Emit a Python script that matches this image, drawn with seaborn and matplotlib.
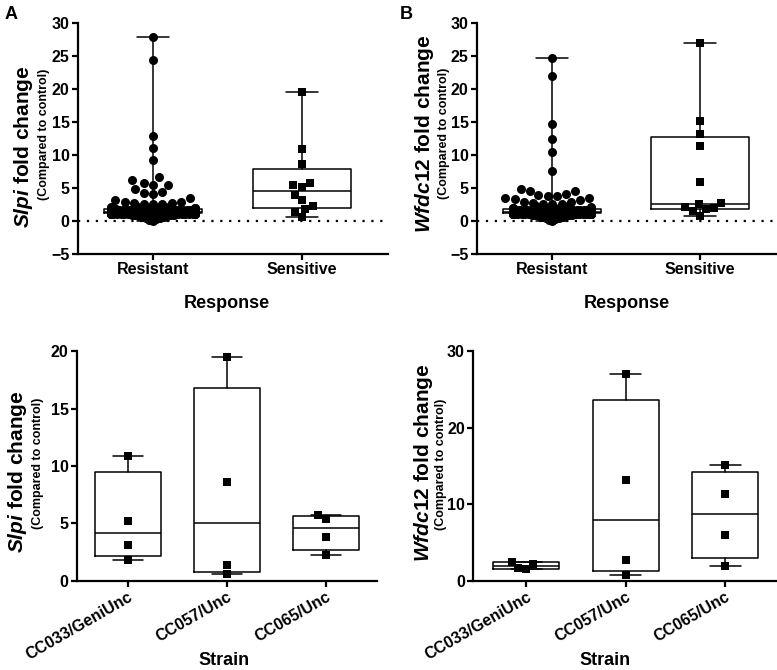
import numpy as np
import pandas as pd
import matplotlib.pyplot as plt
import seaborn as sns

sns.set_theme(style="ticks")
plt.rcParams["font.family"] = ["Liberation Sans", "DejaVu Sans"]
plt.rcParams["font.weight"] = "bold"
plt.rcParams["text.color"] = "black"
plt.rcParams["axes.labelcolor"] = "black"
plt.rcParams["mathtext.fontset"] = "custom"
plt.rcParams["mathtext.rm"] = "Liberation Sans:bold"
plt.rcParams["mathtext.it"] = "Liberation Sans:italic:bold"
plt.rcParams["mathtext.bf"] = "Liberation Sans:bold"

# ---- data ----
response_order = ["Resistant", "Sensitive"]
strain_order = ["CC033/GeniUnc", "CC057/Unc", "CC065/Unc"]

# resistant mice: the spread-out high values, then the dense band as level / count
slpi_resistant_high = [
    27.8, 24.3, 12.9, 11.1, 9.2, 6.6, 6.2, 5.7, 5.5, 5.5, 4.9, 4.4, 4.3, 4.0,
    3.5, 3.1, 2.9, 2.8, 2.7, 2.7, 2.6, 2.6, 2.5,
]
slpi_band_levels = [0.05, 0.2, 0.35, 0.5, 0.65, 0.8, 0.9, 1.0, 1.1, 1.2, 1.3,
                    1.4, 1.5, 1.6, 1.7, 1.8, 1.9, 2.0, 2.1, 2.2]
slpi_band_counts = [1, 1, 1, 2, 2, 3, 4, 8, 10, 12, 14, 14, 12, 10, 8, 6, 4, 3, 2, 2]

wfdc12_resistant_high = [
    24.6, 22.0, 14.7, 12.4, 10.5, 7.5, 4.8, 4.6, 4.6, 4.1, 3.9, 3.8, 3.7,
    3.5, 3.4, 3.3, 3.1, 2.9, 2.8, 2.7, 2.6, 2.5, 2.5,
]
wfdc12_band_levels = [0.05, 0.2, 0.35, 0.5, 0.65, 0.8, 0.9, 1.0, 1.1, 1.2, 1.3,
                      1.4, 1.5, 1.6, 1.7, 1.8, 1.9, 2.0, 2.1, 2.2]
wfdc12_band_counts = [1, 1, 1, 2, 2, 3, 4, 9, 11, 12, 14, 13, 12, 10, 8, 6, 4, 3, 2, 2]

slpi_cc033 = [10.9, 5.2, 3.1, 1.8]
slpi_cc057 = [19.5, 8.6, 1.4, 0.6]
slpi_cc065 = [5.7, 5.4, 3.85, 2.25]
wfdc12_cc033 = [2.17, 1.52, 1.74, 2.52]
wfdc12_cc057 = [27.0, 13.2, 2.74, 0.78]
wfdc12_cc065 = [15.1, 11.4, 5.96, 2.0]

slpi_band = list(np.repeat(slpi_band_levels, slpi_band_counts))
wfdc12_band = list(np.repeat(wfdc12_band_levels, wfdc12_band_counts))
slpi_resistant = slpi_resistant_high + slpi_band
wfdc12_resistant = wfdc12_resistant_high + wfdc12_band
# the sensitive group is the three strains pooled
slpi_sensitive = slpi_cc033 + slpi_cc057 + slpi_cc065
wfdc12_sensitive = wfdc12_cc033 + wfdc12_cc057 + wfdc12_cc065


def box_stats(vals):
    # GraphPad-style quartiles
    q1, med, q3 = np.percentile(vals, [25, 50, 75], method="weibull")
    return dict(med=med, q1=q1, q3=q3, whislo=min(vals), whishi=max(vals), fliers=[])


def pack_swarm(coll, center, squeeze, overlap):
    # seaborn lays the swarm out at draw time: let the dots overlap like the
    # original (smaller collision size) and keep the cloud inside the box
    sizes = coll.get_sizes() * overlap ** 2
    coll.get_sizes = lambda: sizes
    orig = coll.set_offsets

    def set_offsets(xy, _orig=orig):
        xy = np.array(xy, dtype=float)
        xy[:, 0] = center + (xy[:, 0] - center) * squeeze
        _orig(xy)

    coll.set_offsets = set_offsets


def draw_panel(ax, order, groups, layers, capw, ylim, yticks, xlim,
               gene, label_pos, xlabel, xlabel_pos, rotate=False):
    # layers: (category index, values, marker, size, packing or None)
    for i, vals, mk, ms, packing in layers:
        df = pd.DataFrame({"group": [order[i]] * len(vals), "value": vals})
        n_before = len(ax.collections)
        sns.swarmplot(data=df, x="group", y="value", order=order, color="black",
                      marker=mk, size=ms, linewidth=0, ax=ax, zorder=3,
                      warn_thresh=1.0)
        if packing is not None:
            for coll in ax.collections[n_before:]:
                if len(coll.get_offsets()) == len(vals):
                    pack_swarm(coll, i, *packing)
    line = dict(color="black", linewidth=1.1)
    ax.bxp([box_stats(v) for v in groups], positions=list(range(len(order))),
           widths=0.66, capwidths=capw, showfliers=False, manage_ticks=False,
           boxprops=line, whiskerprops=line, capprops=line, medianprops=line)
    ax.set_xlim(*xlim)
    ax.set_ylim(*ylim)
    ax.set_yticks(yticks)
    sns.despine(ax=ax)
    for sp in ax.spines.values():
        sp.set_linewidth(1.6)
        sp.set_color("black")
    ax.tick_params(axis="both", width=1.6, length=4, pad=2, labelsize=11.5,
                   colors="black")
    ax.set_ylabel("")
    ax.set_xlabel(xlabel, fontsize=13, fontweight="bold")
    ax.xaxis.set_label_coords(*xlabel_pos)
    if rotate:
        for t in ax.get_xticklabels():
            t.set_rotation(30)
            t.set_ha("right")
            t.set_rotation_mode("anchor")
    (mx, my), (sx, sy) = label_pos
    ax.annotate(f"${gene}$ fold change", xy=(0, my), xycoords="axes fraction",
                xytext=(mx, 0), textcoords="offset points", rotation=90,
                ha="center", va="center", fontsize=15, fontweight="bold")
    ax.annotate("(Compared to control)", xy=(0, sy), xycoords="axes fraction",
                xytext=(sx, 0), textcoords="offset points", rotation=90,
                ha="center", va="center", fontsize=9, fontweight="bold")


fig = plt.figure(figsize=(7.77, 6.70), dpi=100)
ax_a = fig.add_axes([0.1004, 0.621, 0.399, 0.345])
ax_b = fig.add_axes([0.614, 0.621, 0.386, 0.345])
ax_c = fig.add_axes([0.099, 0.133, 0.386, 0.343])
ax_d = fig.add_axes([0.609, 0.133, 0.391, 0.343])

for ax in (ax_a, ax_b):
    ax.axhline(0, color="black", linestyle=(0, (1, 3)), linewidth=1.6, zorder=1)

draw_panel(ax_a, response_order, [slpi_resistant, slpi_sensitive],
           [(0, slpi_band, "o", 6.5, (0.7, 0.55)),
            (0, slpi_resistant_high, "o", 6.5, None),
            (1, slpi_sensitive, "s", 6.0, None)],
           0.22, (-5, 30), range(-5, 31, 5), (-0.503, 1.577), "Slpi",
           ((-39, 0.463), (-24.5, 0.519)), "Response", (0.48, -0.177))
draw_panel(ax_b, response_order, [wfdc12_resistant, wfdc12_sensitive],
           [(0, wfdc12_band, "o", 6.5, (0.66, 0.55)),
            (0, wfdc12_resistant_high, "o", 6.5, None),
            (1, wfdc12_sensitive, "s", 6.0, None)],
           0.22, (-5, 30), range(-5, 31, 5), (-0.507, 1.52), "Wfdc12",
           ((-38, 0.52), (-24, 0.52)), "Response", (0.5, -0.177))
draw_panel(ax_c, strain_order, [slpi_cc033, slpi_cc057, slpi_cc065],
           [(i, v, "s", 6.0, None) for i, v in enumerate([slpi_cc033, slpi_cc057, slpi_cc065])],
           0.31, (0, 20), range(0, 21, 5), (-0.515, 2.515), "Slpi",
           ((-42.5, 0.476), (-28, 0.51)), "Strain", (0.49, -0.309), rotate=True)
draw_panel(ax_d, strain_order, [wfdc12_cc033, wfdc12_cc057, wfdc12_cc065],
           [(i, v, "s", 6.0, None) for i, v in enumerate([wfdc12_cc033, wfdc12_cc057, wfdc12_cc065])],
           0.31, (0, 30), range(0, 31, 10), (-0.533, 2.52), "Wfdc12",
           ((-36, 0.513), (-23, 0.509)), "Strain", (0.434, -0.309), rotate=True)

fig.text(5 / 777, 1 - 6 / 670, "A", fontsize=13, fontweight="bold", va="top", ha="left")
fig.text(400 / 777, 1 - 6 / 670, "B", fontsize=13, fontweight="bold", va="top", ha="left")

fig.savefig("out.png", dpi=100)
